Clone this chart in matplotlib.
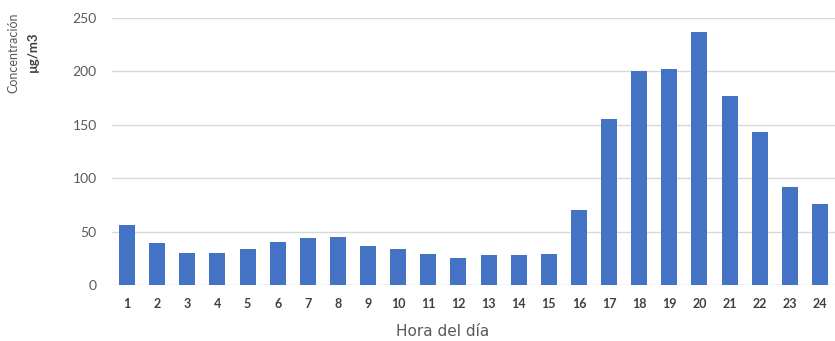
import matplotlib.pyplot as plt

horas = list(range(1, 25))
concentracion = [56, 39, 30, 30, 34, 40, 44, 45, 36.5, 34, 28.7, 25.6,
                 28, 28, 28.7, 70, 155, 200, 202.5, 236.5, 177, 143, 91.5, 75.5]
etiquetas_y = [0, 50, 100, 150, 200, 250]

plt.rcParams['font.family'] = ['Lato', 'DejaVu Sans']

fig = plt.figure(figsize=(8.35, 3.41), dpi=100)
ax = fig.add_axes([112 / 835, 1 - 285 / 341, 723 / 835, 267 / 341])

ax.bar(horas, concentracion, width=0.53, color='#4472C4', zorder=3)

ax.set_xlim(0.5, 24.5)
ax.set_ylim(0, 250)
ax.set_yticks(etiquetas_y)
ax.set_xticks(horas)
ax.set_xticklabels([str(h) for h in horas], fontsize=9, fontweight='bold', color='#404040')
ax.tick_params(axis='y', labelsize=10, labelcolor='#595959', length=0, pad=11)
ax.tick_params(axis='x', length=0, pad=9)
ax.grid(axis='y', color='#d9d9d9', linewidth=1, zorder=0)
for s in ax.spines.values():
    s.set_visible(False)

ax.set_xlabel('Hora del día', fontsize=11, color='#595959', family='DejaVu Sans')
ax.xaxis.set_label_coords((443 - 112) / 723, -(332 - 285) / 267)
ax.xaxis.label.set_va('center')

fig.text(13 / 835, 1 - 53 / 341, 'Concentración', rotation=90, fontsize=9,
         color='#595959', ha='center', va='center')
fig.text(33 / 835, 1 - 52 / 341, 'µg/m3', rotation=90, fontsize=9.5,
         color='#404040', fontweight='bold', ha='center', va='center')

fig.savefig('out.png', dpi=100)
